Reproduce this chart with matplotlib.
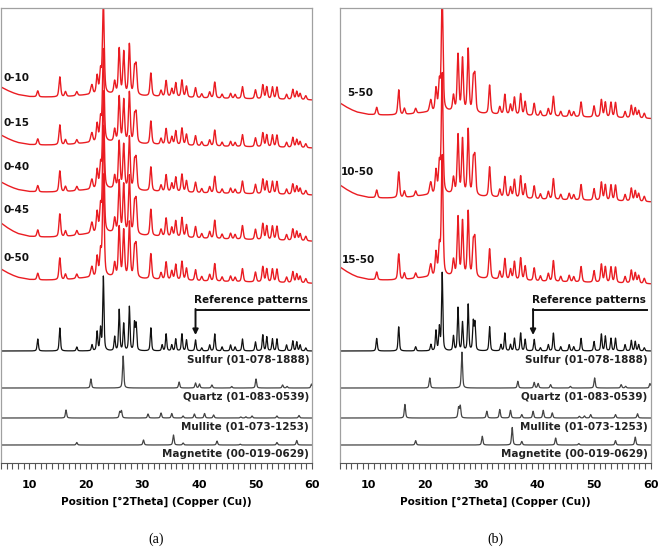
import numpy as np
import matplotlib.pyplot as plt

# 2-theta range shown (deg)
two_theta = np.linspace(5, 60, 5501)

# --- reference patterns: peak positions (deg) and heights (px) ---
sulfur_pos = [11.5, 15.4, 18.4, 21.1, 22.0, 22.6, 23.1, 25.1, 25.9, 26.7, 27.7, 28.6, 28.9,
              31.5, 33.5, 34.2, 35.2, 35.9, 37.0, 37.8, 39.4, 40.5, 41.9, 42.8, 44.1, 45.6,
              46.4, 47.7, 50.0, 51.3, 52.0, 53.0, 53.8, 55.5, 56.6, 57.3, 57.9, 58.9]
sulfur_hts = [12, 23, 4, 6, 19, 22, 74, 14, 41, 27, 44, 27, 26,
              23, 6, 17, 6, 12, 17, 11, 11, 3, 6, 17, 4, 6,
              4, 12, 9, 16, 14, 12, 12, 6, 10, 9, 6, 3]
quartz_pos = [20.9, 26.6, 36.5, 39.4, 40.1, 42.3, 45.8, 50.1, 54.8, 55.6, 59.9]
quartz_hts = [9, 32, 6, 5, 4, 3, 1.5, 9, 3, 1.5, 4]
mullite_pos = [16.5, 26.0, 26.3, 31.0, 33.3, 35.2, 37.2, 39.2, 41.0, 42.6, 47.4, 48.3, 49.4, 53.8, 57.7]
mullite_hts = [8, 6, 7, 4, 5, 4.5, 2, 4, 4.5, 3, 1, 1.2, 2, 2, 2.5]
magnetite_pos = [18.4, 30.2, 35.5, 37.2, 43.2, 47.3, 53.8, 57.3]
magnetite_hts = [2.5, 5, 10, 2, 4, 0.8, 2.5, 4.5]

ref_names = ["Sulfur (01-078-1888)", "Quartz (01-083-0539)",
             "Mullite (01-073-1253)", "Magnetite (00-019-0629)"]
ref_base = [112, 75, 45, 18]
ref_scale_a = [1.0, 1.0, 1.0, 1.0]
ref_scale_b = [1.05, 1.12, 1.7, 1.75]

# --- measured samples: peak list (heights for 0-10 trace, px) ---
sample_pos = [11.5, 15.4, 16.4, 18.4, 20.9, 21.1, 22.0, 22.6, 23.1, 25.1, 25.9, 26.7, 27.7,
              28.6, 28.9, 31.5, 33.3, 34.2, 35.2, 35.9, 37.0, 37.8, 39.4, 40.5, 41.9, 42.8,
              44.1, 45.6, 46.4, 47.7, 50.0, 51.3, 52.0, 53.0, 53.8, 55.5, 56.6, 57.3, 57.9, 58.9]
sample_hts = [6, 20, 5, 4, 3, 8, 18, 22, 92, 12, 45, 42, 50,
              24, 27, 23, 6, 16, 8, 14, 17, 11, 10, 4, 6, 16,
              4, 5, 4, 12, 9, 14, 12, 12, 12, 5, 10, 8, 6, 4]
# background knots (deg, px offset)
bg_deg = [5, 6, 7, 8, 10, 12, 16, 20, 25, 30, 40, 50, 60]
bg_off = [10, 7, 4.5, 2.5, 0.5, 0, 0, 2, 3, 1, -1, -2, -3]

labels_a = ["0-10", "0-15", "0-40", "0-45", "0-50"]
base_a = [366, 318, 271, 226, 183]
scale_a = [1.0, 1.0, 1.05, 1.15, 1.1]
bgk_a = [1.0, 1.0, 1.0, 1.4, 1.1]
label_y_a = [385, 340, 296, 253, 205]

labels_b = ["5-50", "10-50", "15-50"]
base_b = [348, 265, 183]
scale_b = [1.25, 1.3, 1.3]
bgk_b = [1.2, 1.3, 1.3]
label_y_b = [370, 291, 203]
label_x_b = [6.2, 5.1, 5.3]


def profile(pos, hts, fwhm):
    y = np.zeros_like(two_theta)
    g = fwhm / 2
    for p, h in zip(pos, hts):
        y += h * (0.5 * g ** 2 / ((two_theta - p) ** 2 + g ** 2)
                  + 0.5 * np.exp(-np.log(2) * ((two_theta - p) / g) ** 2))
    return y


RED = "#ea1c22"
fig = plt.figure(figsize=(6.65, 5.52), dpi=100)
ax_a = fig.add_axes([1 / 665, 89 / 552, 311 / 665, 455 / 552])
ax_b = fig.add_axes([340 / 665, 89 / 552, 310.5 / 665, 455 / 552])

ref_pos = [sulfur_pos, quartz_pos, mullite_pos, magnetite_pos]
ref_hts = [sulfur_hts, quartz_hts, mullite_hts, magnetite_hts]
ref_col = ["#111111", "#444444", "#444444", "#444444"]

bg = np.interp(two_theta, bg_deg, bg_off)
samp = profile(sample_pos, sample_hts, 0.36)

for ax, ref_scale, arrow_x in [(ax_a, ref_scale_a, 39.4), (ax_b, ref_scale_b, 39.2)]:
    for i in range(4):
        yr = ref_base[i] + ref_scale[i] * profile(ref_pos[i], ref_hts[i], 0.27)
        ax.plot(two_theta, yr, color=ref_col[i], lw=0.9)
        ax.text(59.5, ref_base[i] - 9, ref_names[i], ha="right", va="center",
                fontsize=7.5, fontweight="bold", color="#222222")
    ax.text(59.2, 163, "Reference patterns", ha="right", va="center",
            fontsize=7.5, fontweight="bold", color="#111111")
    ax.plot([59.4, arrow_x], [153, 153], color="#111111", lw=1.4)
    ax.annotate("", xy=(arrow_x, 128), xytext=(arrow_x, 154),
                arrowprops=dict(arrowstyle="-|>", color="#111111", lw=1.4,
                                mutation_scale=8, shrinkA=0, shrinkB=0))

for lab, b, s, k, ly in zip(labels_a, base_a, scale_a, bgk_a, label_y_a):
    ax_a.plot(two_theta, b + k * bg + s * samp, color=RED, lw=1.0)
    ax_a.text(5.5, ly, lab, ha="left", va="center", fontsize=7.5,
              fontweight="bold", color="#111111")

for lab, b, s, k, ly, lx in zip(labels_b, base_b, scale_b, bgk_b, label_y_b, label_x_b):
    ax_b.plot(two_theta, b + k * bg + s * samp, color=RED, lw=1.0)
    ax_b.text(lx, ly, lab, ha="left", va="center", fontsize=7.5,
              fontweight="bold", color="#111111")

for ax, tag in [(ax_a, "(a)"), (ax_b, "(b)")]:
    ax.set_xlim(5, 60)
    ax.set_ylim(0, 455)
    ax.set_yticks([])
    ax.set_xticks([10, 20, 30, 40, 50, 60])
    ax.set_xticks(np.arange(5, 61, 1), minor=True)
    ax.tick_params(axis="x", which="both", direction="out", length=4, width=0.8,
                   color="#555555", pad=8, labelsize=8)
    for t in ax.get_xticklabels():
        t.set_fontweight("bold")
    for side in ["top", "left", "right"]:
        ax.spines[side].set_color("#a0a0a0")
        ax.spines[side].set_linewidth(0.9)
    ax.spines["bottom"].set_color("#555555")
    ax.set_xlabel("Position [°2Theta] (Copper (Cu))", fontsize=7.5,
                  fontweight="bold", labelpad=5)
    ax.text(0.5, -0.167, tag, transform=ax.transAxes, ha="center", va="center",
            fontsize=10, family="Liberation Serif")

fig.savefig("out.png", dpi=100)
